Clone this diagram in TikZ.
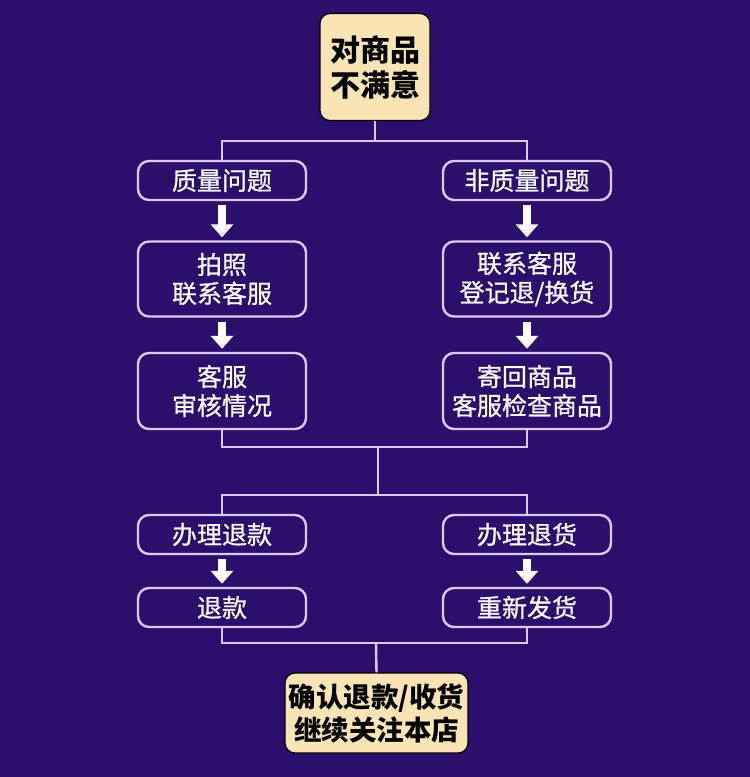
\documentclass[tikz,border=0pt]{standalone}
\usepackage{fontspec}
\setmainfont{Noto Sans CJK SC}
\newfontfamily\wfont{Noto Sans CJK SC}[FakeBold=0.7]
\usetikzlibrary{arrows.meta}
\definecolor{bg}{HTML}{2A0F6C}
\definecolor{edge}{HTML}{DCC8F2}
\definecolor{beige}{HTML}{FAE4B5}
\tikzset{
  wbox/.style={draw=edge, line width=2.4pt, rounded corners=11pt, fill=bg, text=white,
    minimum width=168pt, align=center, inner sep=0pt, font=\wfont\fontsize{25}{29}\selectfont},
  bbox/.style={draw=black, line width=1.2pt, rounded corners=10pt, fill=beige, text=black,
    align=center, inner sep=0pt},
  conn/.style={draw=edge, line width=2.4pt},
  bigarrow/.style={draw=white, line width=8pt, -{Triangle[width=22pt,length=13pt]},
    shorten <=4pt, shorten >=3pt}
}
\begin{document}
\begin{tikzpicture}[x=1pt,y=-1pt]
\fill[bg] (0,0) rectangle (750,777);
\useasboundingbox (0,0) rectangle (750,777);
% nodes
\node[bbox, minimum width=110pt, minimum height=107pt, font=\bfseries\fontsize{30}{35}\selectfont] (top) at (375,67) {对商品\\不满意};
\node[wbox, minimum height=39pt] (l1) at (222,180.5) {质量问题};
\node[wbox, minimum height=39pt] (r1) at (527,180.5) {非质量问题};
\node[wbox, minimum height=75pt] (l2) at (222,279) {拍照\\联系客服};
\node[wbox, minimum height=75pt] (r2) at (527,279) {联系客服\\登记退/换货};
\node[wbox, minimum height=76pt] (l3) at (222,391) {客服\\审核情况};
\node[wbox, minimum height=76pt] (r3) at (527,391) {寄回商品\\客服检查商品};
\node[wbox, minimum height=39pt] (l4) at (222,534.5) {办理退款};
\node[wbox, minimum height=39pt] (r4) at (527,534.5) {办理退货};
\node[wbox, minimum height=39pt] (l5) at (222,607.5) {退款};
\node[wbox, minimum height=39pt] (r5) at (527,607.5) {重新发货};
\node[bbox, minimum width=183pt, minimum height=80pt, font=\bfseries\fontsize{27.5}{33}\selectfont] (bot) at (376.5,713) {确认退款/收货\\继续关注本店};
% junctions
\coordinate (j1) at (375,141);
\coordinate (j2) at (378,447);
\coordinate (j3) at (378,495);
\coordinate (j4) at (376,643);
% connectors
\draw[conn] (top.south) -- (j1);
\draw[conn] (l1.north) |- (j1) -| (r1.north);
\draw[conn] (l3.south) |- (j2) -| (r3.south);
\draw[conn] (j2) -- (j3);
\draw[conn] (l4.north) |- (j3) -| (r4.north);
\draw[conn] (l5.south) |- (j4) -| (r5.south);
\draw[conn] (j4) -- (bot.north);
% arrows
\draw[bigarrow] (l1.south) -- (l2.north);
\draw[bigarrow] (r1.south) -- (r2.north);
\draw[bigarrow] (l2.south) -- (l3.north);
\draw[bigarrow] (r2.south) -- (r3.north);
\draw[bigarrow] (l4.south) -- (l5.north);
\draw[bigarrow] (r4.south) -- (r5.north);
\end{tikzpicture}
\end{document}
